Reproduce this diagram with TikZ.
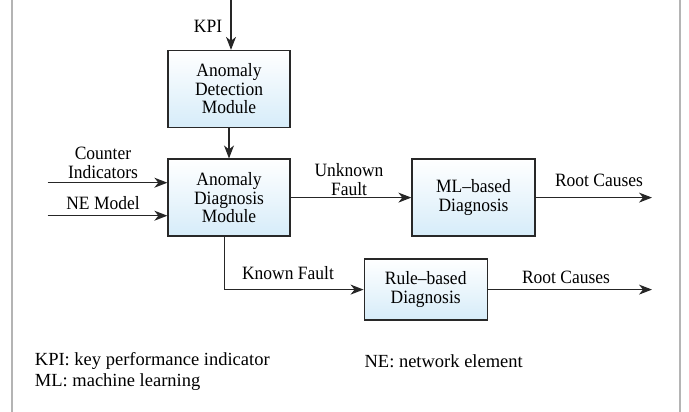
\documentclass[tikz,border=0pt]{standalone}
\usepackage{fontspec}
\setmainfont{Liberation Serif}
\newfontfamily\diagfont[FakeStretch=0.93,Ligatures=TeX]{Liberation Serif}
\usetikzlibrary{arrows.meta,positioning}

\definecolor{boxblue}{RGB}{214,236,249}
\definecolor{boxedge}{RGB}{40,40,40}
\definecolor{framegray}{RGB}{180,180,180}

\tikzset{
  module/.style={draw=boxedge, line width=1.3pt, top color=white, bottom color=boxblue,
    minimum width=122pt, align=center, inner sep=2pt,
    font=\diagfont\fontsize{18.8}{18.5}\selectfont},
  lbl/.style={align=center, inner sep=0pt, font=\diagfont\fontsize{18.8}{18.5}\selectfont},
  legend/.style={anchor=west, inner sep=0pt, font=\fontsize{18.5}{20}\selectfont},
  flow/.style={draw=black!85, line width=1.1pt,
    -{Stealth[length=13pt,width=10pt,inset=4pt]}},
}

\begin{document}
\begin{tikzpicture}[x=1pt, y=-1pt]
\useasboundingbox (0,0) rectangle (689,412);

% side rules of the panel
\draw[framegray, line width=2pt] (12,-2) -- (12,414);
\draw[framegray, line width=2pt] (680,-2) -- (680,414);

% modules
\node[module, minimum height=77pt] (det)  at (229,89)    {Anomaly\\Detection\\Module};
\node[module, minimum height=77pt] (diag) at (229,197.6) {Anomaly\\Diagnosis\\Module};
\node[module, minimum height=77pt, minimum width=123pt] (ml) at (473.5,197.6) {ML–based\\Diagnosis};
\node[module, minimum height=61pt, minimum width=123pt] (rule) at (425.7,289.6) {Rule–based\\Diagnosis};

% free ends of the connectors
\coordinate (kpiin) at (231,-2);
\coordinate (ciin)  at (47.6,182.7);
\coordinate (nein)  at (47.6,215.7);
\coordinate (rcml)  at (652,197.6);
\coordinate (rcrule) at (652,289.6);

% connectors
\draw[flow] (kpiin) -- (kpiin |- det.north);
\draw[flow] (det.south) -- (diag.north);
\draw[flow] (ciin) -- (ciin -| diag.west);
\draw[flow] (nein) -- (nein -| diag.west);
\draw[flow] (diag.east) -- (ml.west);
\draw[flow] (ml.east) -- (rcml);
\draw[flow] ([xshift=-4.6pt]diag.south) |- (rule.west);
\draw[flow] (rule.east) -- (rcrule);

% connector labels
\node[lbl] (kpilbl) at (208,26.7) {KPI};
\node[lbl] (cilbl)  at (103,163) {Counter\\Indicators};
\node[lbl] (nelbl)  at (103,202.7) {NE Model};
\node[lbl] (uflbl)  at (349,179.5) {Unknown\\Fault};
\node[lbl] (rc1lbl) at (599,180.7) {Root Causes};
\node[lbl] (kflbl)  at (288,272.7) {Known Fault};
\node[lbl] (rc2lbl) at (566,277.7) {Root Causes};

% abbreviations
\node[legend] (kpidef) at (34.7,361) {KPI: key performance indicator};
\node[legend] (mldef)  at (34.7,381.7) {ML: machine learning};
\node[legend] (nedef)  at (364.4,361) {NE: network element};
\end{tikzpicture}
\end{document}
